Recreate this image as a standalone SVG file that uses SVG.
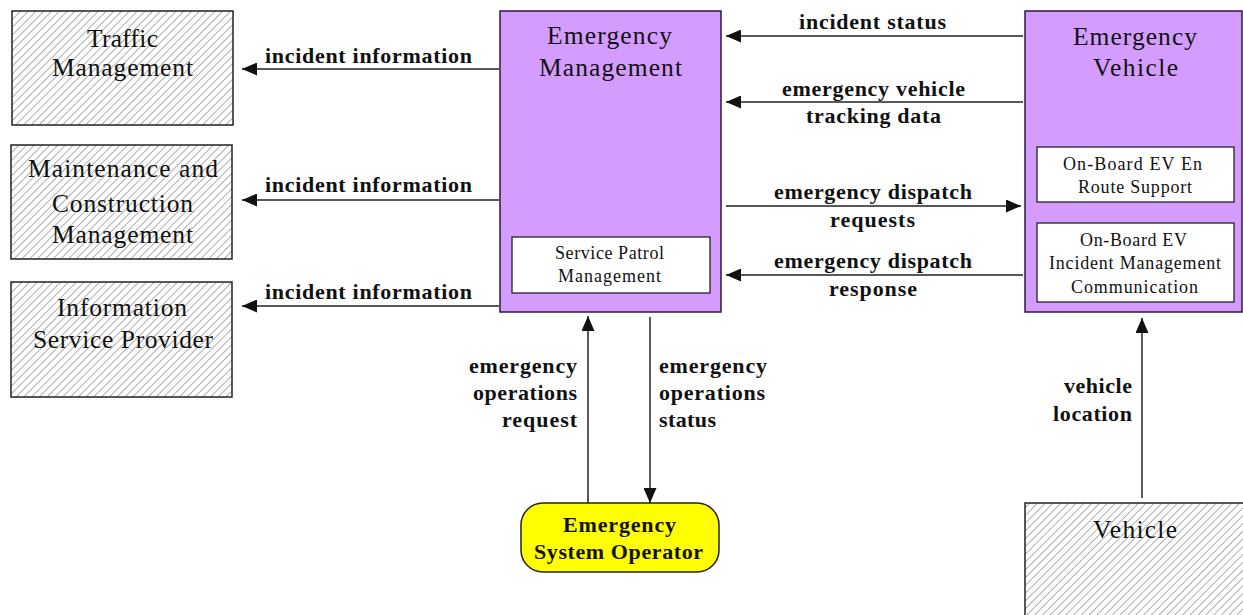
<svg xmlns="http://www.w3.org/2000/svg" width="1243" height="615" viewBox="0 0 1243 615" font-family="'Liberation Serif', 'Times New Roman', serif">
<style>
  .t{font-family:"Liberation Serif","Times New Roman",serif;fill:#111}
  .title{font-size:25.5px}
  .sub{font-size:18px}
  .lab{font-size:22px;font-weight:bold}
  .hatch{fill:url(#hatch);stroke:#222;stroke-width:1.5}
  .purple{fill:#D59CFF;stroke:#2a1a3a;stroke-width:1.5}
  .inner{fill:#fff;stroke:#222;stroke-width:1.3}
  .conn{stroke:#222;stroke-width:1.5;fill:none;marker-end:url(#ah)}
</style>
<defs>
  <pattern id="hatch" patternUnits="userSpaceOnUse" width="5.5" height="5.5" patternTransform="rotate(45)">
    <rect width="5.5" height="5.5" fill="#fff"/>
    <line x1="0" y1="0" x2="0" y2="5.5" stroke="#a6a6a6" stroke-width="1.8"/>
  </pattern>
  <marker id="ah" markerUnits="userSpaceOnUse" markerWidth="15" markerHeight="13" refX="15" refY="6.5" orient="auto">
    <path d="M0,0 L15,6.5 L0,13 z" fill="#111"/>
  </marker>
</defs>
<rect width="1243" height="615" fill="#fff"/>

<g id="traffic-management">
  <rect class="hatch" x="12" y="11" width="221" height="114"/>
  <text class="t title" x="122.5" y="47" text-anchor="middle" textLength="71" lengthAdjust="spacing">Traffic</text>
  <text class="t title" x="122.5" y="76" text-anchor="middle" textLength="141" lengthAdjust="spacing">Management</text>
</g>
<g id="maintenance-construction-management">
  <rect class="hatch" x="11" y="145" width="221" height="114"/>
  <text class="t title" x="123" y="177" text-anchor="middle" textLength="190" lengthAdjust="spacing">Maintenance and</text>
  <text class="t title" x="122.5" y="212" text-anchor="middle" textLength="141" lengthAdjust="spacing">Construction</text>
  <text class="t title" x="122.5" y="243" text-anchor="middle" textLength="141" lengthAdjust="spacing">Management</text>
</g>
<g id="information-service-provider">
  <rect class="hatch" x="11" y="282" width="221" height="115"/>
  <text class="t title" x="122" y="316" text-anchor="middle" textLength="130" lengthAdjust="spacing">Information</text>
  <text class="t title" x="123" y="348" text-anchor="middle" textLength="180" lengthAdjust="spacing">Service Provider</text>
</g>
<g id="emergency-management">
  <rect class="purple" x="500" y="11" width="221" height="301"/>
  <text class="t title" x="609.5" y="44" text-anchor="middle" textLength="125" lengthAdjust="spacing">Emergency</text>
  <text class="t title" x="610.5" y="76" text-anchor="middle" textLength="143" lengthAdjust="spacing">Management</text>
  <rect class="inner" x="512" y="237" width="198" height="56"/>
  <text class="t sub" x="609.5" y="259" text-anchor="middle" textLength="109" lengthAdjust="spacing">Service Patrol</text>
  <text class="t sub" x="609.5" y="282" text-anchor="middle" textLength="103" lengthAdjust="spacing">Management</text>
</g>
<g id="emergency-vehicle">
  <rect class="purple" x="1025" y="11" width="217" height="301"/>
  <text class="t title" x="1135" y="45" text-anchor="middle" textLength="124" lengthAdjust="spacing">Emergency</text>
  <text class="t title" x="1135.5" y="76" text-anchor="middle" textLength="85" lengthAdjust="spacing">Vehicle</text>
  <rect class="inner" x="1037" y="147" width="197" height="55"/>
  <text class="t sub" x="1132.5" y="170" text-anchor="middle" textLength="139" lengthAdjust="spacing">On-Board EV  En</text>
  <text class="t sub" x="1135" y="193" text-anchor="middle" textLength="114" lengthAdjust="spacing">Route Support</text>
  <rect class="inner" x="1037" y="223" width="197" height="79"/>
  <text class="t sub" x="1133.5" y="246" text-anchor="middle" textLength="107" lengthAdjust="spacing">On-Board EV</text>
  <text class="t sub" x="1135" y="269" text-anchor="middle" textLength="172" lengthAdjust="spacing">Incident Management</text>
  <text class="t sub" x="1134.5" y="293" text-anchor="middle" textLength="127" lengthAdjust="spacing">Communication</text>
</g>
<g id="emergency-system-operator">
  <rect x="521" y="503" width="198" height="69" rx="22" ry="22" fill="#FFFF00" stroke="#222" stroke-width="1.5"/>
  <text class="t lab" x="619.5" y="532" text-anchor="middle" textLength="113" lengthAdjust="spacing">Emergency</text>
  <text class="t lab" x="618.5" y="559" text-anchor="middle" textLength="169" lengthAdjust="spacing">System Operator</text>
</g>
<g id="vehicle">
  <rect class="hatch" x="1025" y="503" width="230" height="130"/>
  <text class="t title" x="1135" y="538" text-anchor="middle" textLength="84" lengthAdjust="spacing">Vehicle</text>
</g>

<g id="connectors">
  <line class="conn" x1="499" y1="69" x2="242" y2="69"/>
  <line class="conn" x1="499" y1="200" x2="242" y2="200"/>
  <line class="conn" x1="499" y1="306" x2="242" y2="306"/>
  <line class="conn" x1="1023" y1="36" x2="726" y2="36"/>
  <line class="conn" x1="1023" y1="102" x2="726" y2="102"/>
  <line class="conn" x1="726" y1="206" x2="1021" y2="206"/>
  <line class="conn" x1="1023" y1="275" x2="726" y2="275"/>
  <line class="conn" x1="588" y1="503" x2="588" y2="316"/>
  <line class="conn" x1="650" y1="317" x2="650" y2="503"/>
  <line class="conn" x1="1142" y1="498" x2="1142" y2="318"/>
</g>

<g id="connector-labels">
  <text class="t lab" x="265" y="63" textLength="207" lengthAdjust="spacing">incident information</text>
  <text class="t lab" x="265" y="192" textLength="207" lengthAdjust="spacing">incident information</text>
  <text class="t lab" x="265" y="299" textLength="207" lengthAdjust="spacing">incident information</text>
  <text class="t lab" x="799" y="29" textLength="147" lengthAdjust="spacing">incident status</text>
  <text class="t lab" x="782" y="96" textLength="183" lengthAdjust="spacing">emergency vehicle</text>
  <text class="t lab" x="806" y="123" textLength="135" lengthAdjust="spacing">tracking data</text>
  <text class="t lab" x="774" y="199" textLength="198" lengthAdjust="spacing">emergency dispatch</text>
  <text class="t lab" x="830" y="227" textLength="85" lengthAdjust="spacing">requests</text>
  <text class="t lab" x="774" y="268" textLength="198" lengthAdjust="spacing">emergency dispatch</text>
  <text class="t lab" x="829" y="296" textLength="88" lengthAdjust="spacing">response</text>
  <text class="t lab" x="469" y="373" textLength="108" lengthAdjust="spacing">emergency</text>
  <text class="t lab" x="473" y="400" textLength="104" lengthAdjust="spacing">operations</text>
  <text class="t lab" x="502" y="427" textLength="75" lengthAdjust="spacing">request</text>
  <text class="t lab" x="659" y="373" textLength="108" lengthAdjust="spacing">emergency</text>
  <text class="t lab" x="659" y="400" textLength="106" lengthAdjust="spacing">operations</text>
  <text class="t lab" x="659" y="427" textLength="57" lengthAdjust="spacing">status</text>
  <text class="t lab" x="1064" y="393" textLength="68" lengthAdjust="spacing">vehicle</text>
  <text class="t lab" x="1053" y="421" textLength="79" lengthAdjust="spacing">location</text>
</g>
</svg>
